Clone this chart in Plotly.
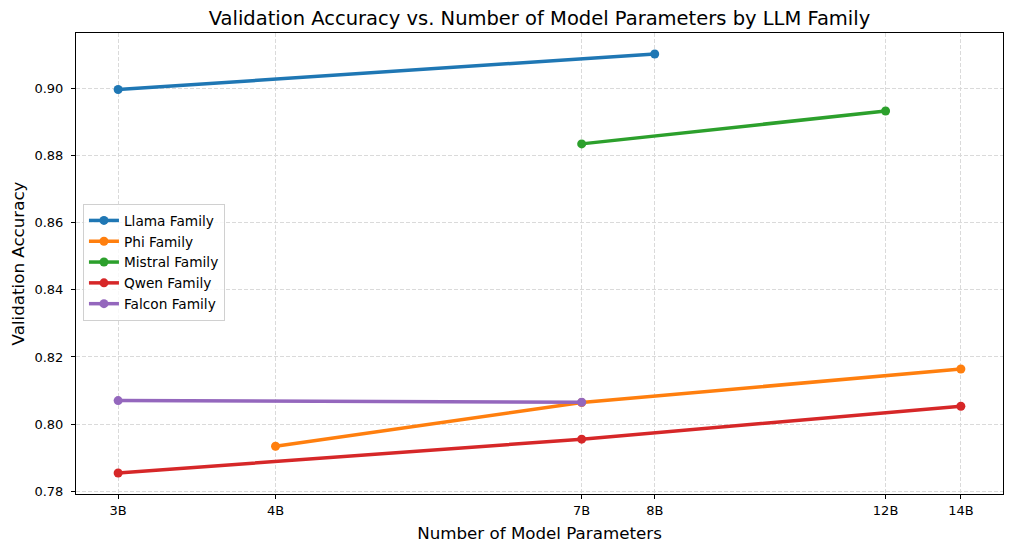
import plotly.graph_objects as go
import math

tick_vals = [3, 4, 7, 8, 12.2, 14]
tick_text = ["3B", "4B", "7B", "8B", "12B", "14B"]

families = ["Llama Family", "Phi Family", "Mistral Family", "Qwen Family", "Falcon Family"]
colors = ["#1f77b4", "#ff7f0e", "#2ca02c", "#d62728", "#9467bd"]

llama_x = [3, 8]
llama_y = [0.8997, 0.9103]
phi_x = [4, 7, 14]
phi_y = [0.7934, 0.8064, 0.8164]
mistral_x = [7, 12.2]
mistral_y = [0.8835, 0.8933]
qwen_x = [3, 7, 14]
qwen_y = [0.7854, 0.7955, 0.8053]
falcon_x = [3, 7]
falcon_y = [0.8070, 0.8065]

series = [(llama_x, llama_y), (phi_x, phi_y), (mistral_x, mistral_y), (qwen_x, qwen_y), (falcon_x, falcon_y)]

fig = go.Figure()
for name, col, (xs, ys) in zip(families, colors, series):
    fig.add_trace(go.Scatter(x=xs, y=ys, mode="lines+markers", name=name,
                             line=dict(color=col, width=3.5),
                             marker=dict(color=col, size=9)))

lx0, lx1 = math.log10(3), math.log10(14)
pad = 0.05 * (lx1 - lx0)
ally = llama_y + phi_y + mistral_y + qwen_y + falcon_y
y0, y1 = min(ally), max(ally)
ypad = 0.05 * (y1 - y0)

font = "DejaVu Sans"
grid = dict(showgrid=True, gridcolor="#dadada", griddash="4px,2px", gridwidth=1)
fig.update_layout(
    width=1006, height=544,
    margin=dict(l=66, r=10, t=25, b=58),
    paper_bgcolor="white", plot_bgcolor="white",
    font=dict(family=font, color="black", size=13),
    title=dict(text="Validation Accuracy vs. Number of Model Parameters by LLM Family",
               x=0.5, xref="paper", xanchor="center", y=0.982, yanchor="middle",
               font=dict(size=19.5, family=font)),
    legend=dict(x=0.0075, y=0.629, xanchor="left", yanchor="top",
                bgcolor="rgba(255,255,255,0.8)", bordercolor="#d0d0d0", borderwidth=1,
                font=dict(size=13.7, family=font), itemwidth=30, tracegroupgap=0),
    xaxis=dict(type="log", range=[lx0 - pad, lx1 + pad], tickvals=tick_vals, ticktext=tick_text,
               showline=True, linecolor="black", linewidth=1, mirror=True,
               ticks="outside", ticklen=4, tickcolor="black",
               zeroline=False, tickfont=dict(size=13), **grid,
               title=dict(text="Number of Model Parameters", font=dict(size=16.7), standoff=10)),
    yaxis=dict(range=[y0 - ypad, y1 + ypad], tickvals=[0.78, 0.80, 0.82, 0.84, 0.86, 0.88, 0.90],
               tickformat=".2f", ticklabelstandoff=5,
               showline=True, linecolor="black", linewidth=1, mirror=True,
               ticks="outside", ticklen=4, tickcolor="black",
               zeroline=False, tickfont=dict(size=13), **grid,
               title=dict(text="Validation Accuracy", font=dict(size=16.7), standoff=5)),
)
fig.write_html("out.html")
